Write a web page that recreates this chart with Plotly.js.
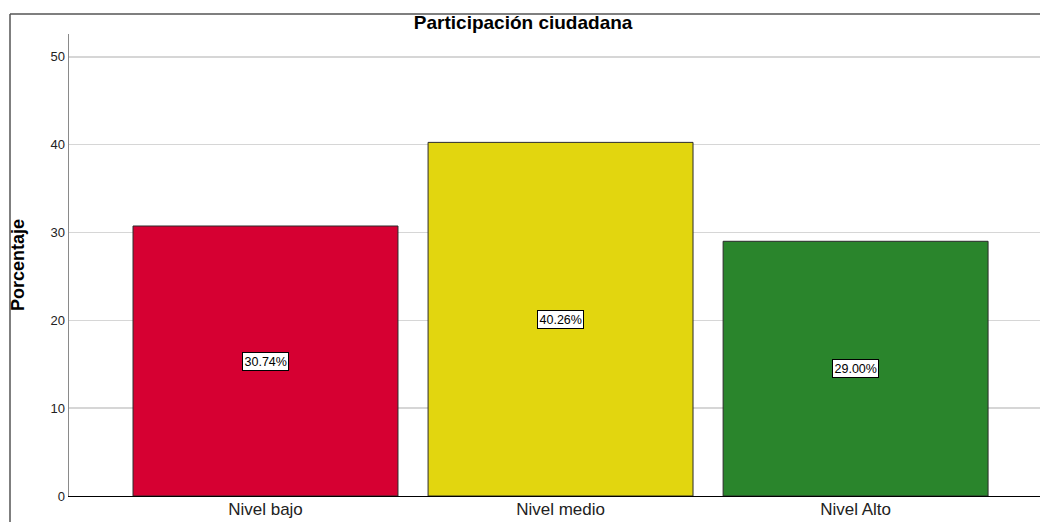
<!DOCTYPE html>
<html><head><meta charset="utf-8">
<script src="https://cdn.plot.ly/plotly-3.0.1.min.js"></script>
<style>html,body{margin:0;padding:0;overflow:hidden;background:#fff}</style>
</head><body><div id="chart" style="width:1040px;height:522px"></div>
<script>
const categories = ["Nivel bajo", "Nivel medio", "Nivel Alto"];
const percentages = [30.74, 40.26, 29.00];
const barColors = ["#d60032", "#e2d60f", "#2a852c"];
const valueLabels = percentages.map(v => v.toFixed(2) + "%");

const trace = {
  type: "bar",
  x: categories,
  y: percentages,
  marker: {color: barColors, line: {color: "#2b2b2b", width: 1}},
  hoverinfo: "skip"
};

const annotations = categories.map((c, i) => ({
  x: c, y: percentages[i] / 2, xref: "x", yref: "y",
  text: valueLabels[i], showarrow: false,
  font: {family: "Liberation Sans, Arial, sans-serif", size: 12.5, color: "#000"},
  bgcolor: "#ffffff", bordercolor: "#000", borderwidth: 1, borderpad: 1.5
}));
annotations.push({
  xref: "paper", yref: "paper", x: (18 - 69) / 971, y: 0.5,
  text: "<b>Porcentaje</b>", textangle: -90, showarrow: false,
  xanchor: "center", yanchor: "middle",
  font: {family: "Liberation Sans, Arial, sans-serif", size: 18, color: "#000"}
});

const layout = {
  width: 1040, height: 522,
  margin: {l: 69, r: 0, t: 34, b: 26, pad: 0},
  paper_bgcolor: "#fff", plot_bgcolor: "#fff",
  showlegend: false,
  bargap: 0.102,
  title: {
    text: "<b>Participación ciudadana</b>",
    x: 0.503, xanchor: "center", y: 1 - 22 / 522, yanchor: "middle",
    font: {family: "Liberation Sans, Arial, sans-serif", size: 19, color: "#000"}
  },
  xaxis: {
    type: "category",
    range: [-0.666, 2.625],
    showgrid: false, zeroline: false,
    showline: true, linecolor: "#000", linewidth: 1,
    ticks: "", automargin: false, ticklabelstandoff: -2,
    tickfont: {family: "Liberation Sans, Arial, sans-serif", size: 17, color: "#222"}
  },
  yaxis: {
    range: [0, 52.6],
    tickvals: [0, 10, 20, 30, 40, 50],
    showgrid: true, gridcolor: "#d6d6d6", gridwidth: 1.5,
    zeroline: false,
    showline: true, linecolor: "#8a8a8a", linewidth: 1.5,
    ticks: "", automargin: false,
    tickfont: {family: "Liberation Sans, Arial, sans-serif", size: 13, color: "#222"}
  },
  shapes: [
    {type: "line", xref: "paper", yref: "paper",
     x0: (10 - 69) / 971, x1: 1.01, y0: (496 - 14) / 462, y1: (496 - 14) / 462,
     line: {color: "#555", width: 1.5}},
    {type: "line", xref: "paper", yref: "paper",
     x0: (10 - 69) / 971, x1: (10 - 69) / 971, y0: (496 - 14) / 462, y1: -0.1,
     line: {color: "#555", width: 1.5}}
  ],
  annotations: annotations
};

Plotly.newPlot("chart", [trace], layout, {displayModeBar: false, staticPlot: true});
</script></body></html>
